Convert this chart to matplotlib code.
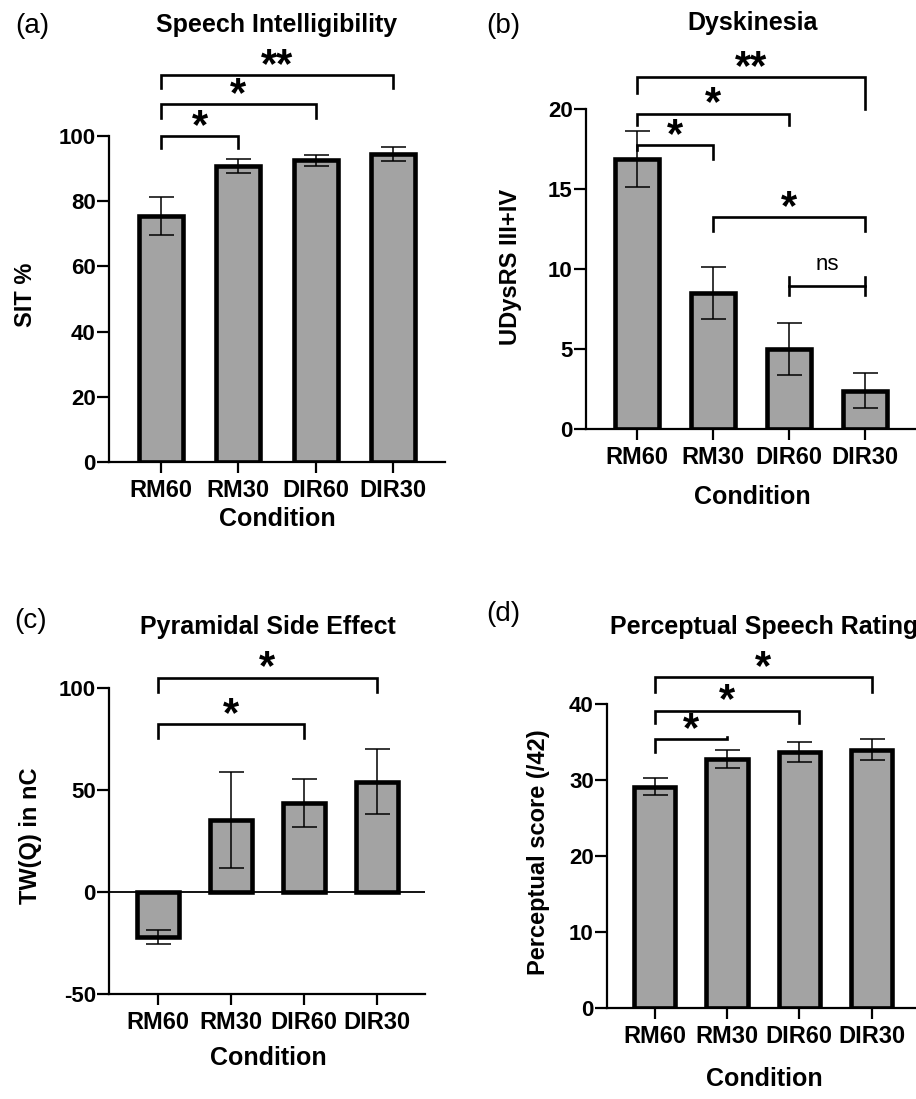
import numpy as np
import matplotlib
matplotlib.use('Agg')
import matplotlib.pyplot as plt

plt.rcParams['font.family'] = ['Liberation Sans', 'DejaVu Sans']
plt.rcParams['font.weight'] = 'bold'
plt.rcParams['axes.unicode_minus'] = False

W, H = 916, 1099  # figure size in pixels

conditions = ['RM60', 'RM30', 'DIR60', 'DIR30']

sit_mean = [75.5, 90.8, 92.5, 94.5]  # speech intelligibility %
sit_err = [5.8, 2.2, 1.6, 2.1]

dysk_mean = [16.85, 8.5, 5.0, 2.4]  # UDysRS III+IV
dysk_err = [1.75, 1.6, 1.6, 1.1]

twq_mean = [-22.0, 35.5, 43.5, 54.0]  # TW(Q) in nC
twq_err = [3.6, 23.5, 11.7, 16.0]

perc_mean = [29.1, 32.8, 33.7, 34.0]  # perceptual score
perc_err = [1.1, 1.2, 1.3, 1.4]

# significance brackets: (bar i, bar j, line y, left leg end, right leg end, label)
sit_sig = [(0, 1, 100.0, 96.3, 96.3, '*'),
           (0, 2, 109.8, 105.5, 105.5, '*'),
           (0, 3, 118.7, 114.7, 114.7, '**')]
dysk_sig = [(0, 1, 17.75, 17.45, 16.9, '*'),
            (0, 2, 19.7, 19.0, 19.0, '*'),
            (0, 3, 22.0, 21.0, 20.0, '**'),
            (1, 3, 13.25, 12.4, 12.4, '*')]
twq_sig = [(0, 2, 82.4, 75.6, 75.6, '*'),
           (0, 3, 105.0, 98.0, 98.0, '*')]
perc_sig = [(0, 1, 35.4, 33.7, 35.7, '*'),
            (0, 2, 39.1, 37.5, 37.5, '*'),
            (0, 3, 43.5, 41.6, 41.6, '*')]


def add_ax(left, right, top, bottom):  # axes from pixel box
    return fig.add_axes([left / W, 1 - bottom / H, (right - left) / W, (bottom - top) / H])


def ftext(x, y, s, **kw):  # text at pixel position
    fig.text(x / W, 1 - y / H, s, ha='center', va='center', **kw)


def bar_panel(ax, means, errs, ylim, yticks, xlim):
    x = np.arange(len(conditions))
    ax.bar(x, means, width=0.57, color='#a3a3a3', edgecolor='black', linewidth=3.3, zorder=2)
    ax.errorbar(x, means, yerr=errs, fmt='none', ecolor='black', elinewidth=1.1,
                capsize=9, capthick=1.1, zorder=3)
    ax.set_xlim(*xlim)
    ax.set_ylim(*ylim)
    ax.set_yticks(yticks)
    ax.set_xticks(x)
    ax.set_xticklabels(conditions)
    for side in ['top', 'right']:
        ax.spines[side].set_visible(False)
    for side in ['left', 'bottom']:
        ax.spines[side].set_linewidth(1.6)
    ax.tick_params(axis='both', direction='out', width=1.6)
    ax.tick_params(axis='y', length=9, pad=0.5, labelsize=16)
    ax.tick_params(axis='x', length=8, pad=4, labelsize=17)


def brackets(ax, sig, star_size=30):
    for i, j, y, yl, yr, lab in sig:
        ax.plot([i, i, j, j], [yl, y, y, yr], color='black', lw=1.9,
                clip_on=False, solid_joinstyle='miter', zorder=4)
        ax.annotate(lab, xy=((i + j) / 2, y), xytext=(0, 16 - 0.575 * star_size),
                    textcoords='offset points', ha='center', va='baseline',
                    fontsize=star_size, fontweight='bold', annotation_clip=False)


fig = plt.figure(figsize=(W / 100, H / 100), dpi=100)

# (a) speech intelligibility
ax1 = add_ax(109, 445, 136, 462)
bar_panel(ax1, sit_mean, sit_err, (0, 100), [0, 20, 40, 60, 80, 100], (-0.67, 3.67))
brackets(ax1, sit_sig)
ftext(32, 26, '(a)', fontsize=20, fontweight='normal')
ftext(277, 25, 'Speech Intelligibility', fontsize=18)
ftext(25, 295, 'SIT %', fontsize=17, rotation=90)
ftext(277, 519, 'Condition', fontsize=18)

# (b) dyskinesia
ax2 = add_ax(586, 915, 109, 429)
bar_panel(ax2, dysk_mean, dysk_err, (0, 20), [0, 5, 10, 15, 20], (-0.67, 3.66))
brackets(ax2, dysk_sig)
# ns comparison between DIR60 and DIR30
ax2.plot([2, 3], [8.95, 8.95], color='black', lw=1.9, zorder=4)
ax2.plot([2, 2], [8.4, 9.5], color='black', lw=1.9, zorder=4)
ax2.plot([3, 3], [8.4, 9.5], color='black', lw=1.9, zorder=4)
ax2.annotate('ns', xy=(2.5, 8.95), xytext=(0, 15), textcoords='offset points',
             ha='center', va='center', fontsize=16, fontweight='normal')
ftext(503, 26, '(b)', fontsize=20, fontweight='normal')
ftext(753, 23, 'Dyskinesia', fontsize=18)
ftext(511, 267, 'UDysRS III+IV', fontsize=17, rotation=90)
ftext(752, 497, 'Condition', fontsize=18)

# (c) pyramidal side effect
ax3 = add_ax(109, 425, 688, 994)
bar_panel(ax3, twq_mean, twq_err, (-50, 100), [-50, 0, 50, 100], (-0.67, 3.66))
ax3.axhline(0, color='black', lw=1.3, zorder=1)
brackets(ax3, twq_sig)
ftext(31, 621, '(c)', fontsize=20, fontweight='normal')
ftext(268, 627, 'Pyramidal Side Effect', fontsize=18)
ftext(30, 836, 'TW(Q) in nC', fontsize=17, rotation=90)
ftext(268, 1058, 'Condition', fontsize=18)

# (d) perceptual speech rating
ax4 = add_ax(607, 915, 704, 1008)
bar_panel(ax4, perc_mean, perc_err, (0, 40), [0, 10, 20, 30, 40], (-0.66, 3.6))
brackets(ax4, perc_sig)
ftext(503, 614, '(d)', fontsize=20, fontweight='normal')
ftext(764, 627, 'Perceptual Speech Rating', fontsize=18)
ftext(539, 852, 'Perceptual score (/42)', fontsize=17, rotation=90)
ftext(764, 1079, 'Condition', fontsize=18)

fig.savefig('out.png', dpi=100)
